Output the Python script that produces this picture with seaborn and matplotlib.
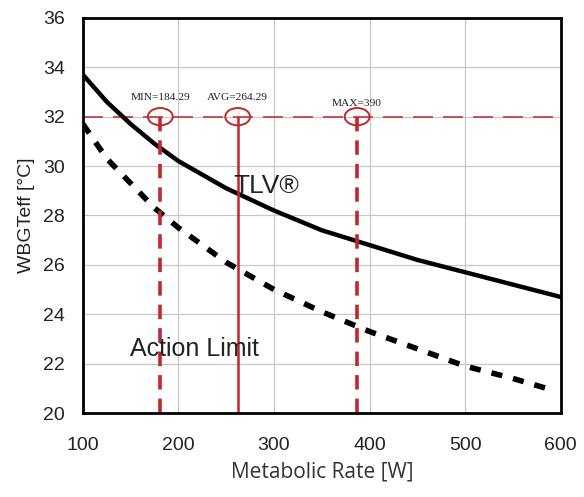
import numpy as np
import pandas as pd
import matplotlib.pyplot as plt
import seaborn as sns
from matplotlib.patches import Ellipse

sns.set_theme(style="white")
plt.rcParams['font.family'] = ['Liberation Sans', 'DejaVu Sans']

# data
metabolic = [100, 125, 150, 175, 200, 250, 300, 350, 400, 450, 500, 550, 585]
tlv = [33.7, 32.6, 31.7, 30.9, 30.2, 29.1, 28.2, 27.4, 26.8, 26.2, 25.7, 25.2, 24.85]
action = [31.7, 30.3, 29.3, 28.3, 27.5, 26.1, 25.0, 24.1, 23.3, 22.6, 21.9, 21.4, 21.0]
tlv_end = (600, 24.7)
marker_names = ["MIN=184.29", "AVG=264.29", "MAX=390"]
marker_x = [181, 262, 387]
limit_y = 32

df = pd.DataFrame({"M": metabolic, "TLV": tlv, "Action": action})
df_tlv = pd.concat([df[["M", "TLV"]], pd.DataFrame({"M": [tlv_end[0]], "TLV": [tlv_end[1]]})])

fig = plt.figure(figsize=(5.84, 4.97), dpi=100)
ax = fig.add_axes([0.142, 0.169, 0.818, 0.795])

sns.lineplot(data=df_tlv, x="M", y="TLV", ax=ax, color="black", linewidth=3.2)
sns.lineplot(data=df, x="M", y="Action", ax=ax, color="black", linewidth=4,
             linestyle=(0, (2, 2)))

ax.axhline(limit_y, color="#c0393b", linewidth=1.2, dashes=(12, 6), zorder=1)
red = "#c0282b"
styles = [dict(linewidth=2.6, linestyle=(0, (4, 2.5))),
          dict(linewidth=1.8, linestyle="-"),
          dict(linewidth=2.6, linestyle=(0, (4, 2.5)))]
for name, xv, st in zip(marker_names, marker_x, styles):
    ax.plot([xv, xv], [20, limit_y], color=red, zorder=2, **st)
    ax.add_patch(Ellipse((xv, limit_y), 26, 0.7, fill=False, edgecolor=red, linewidth=1.4, zorder=3))
    dy = 0.78 if name != "MAX=390" else 0.55
    ax.text(xv, limit_y + dy, name, ha="center", va="center", fontsize=8.2,
            family="Liberation Serif", color="#222222")

ax.text(257, 29.2, "TLV®", fontsize=19, color="#222222", ha="left", va="center")
ax.text(149, 22.6, "Action Limit", fontsize=18, color="#222222", ha="left", va="center")

ax.set_xlim(100, 600)
ax.set_ylim(20, 36)
ax.set_xticks([100, 200, 300, 400, 500, 600])
ax.set_yticks(range(20, 37, 2))
ax.grid(True, color="#c8c8c8", linewidth=0.9)
ax.tick_params(labelsize=14, colors="#222222", length=0)
ax.tick_params(axis="x", pad=17)
ax.tick_params(axis="y", pad=13)
for s in ax.spines.values():
    s.set_color("black")
    s.set_linewidth(2)
ax.set_xlabel("Metabolic Rate [W]", fontsize=15, family="Open Sans", color="#333333", labelpad=6)
ax.set_ylabel("WBGTeff [°C]", fontsize=14, color="#222222", labelpad=6)

plt.savefig("out.png", dpi=100)
